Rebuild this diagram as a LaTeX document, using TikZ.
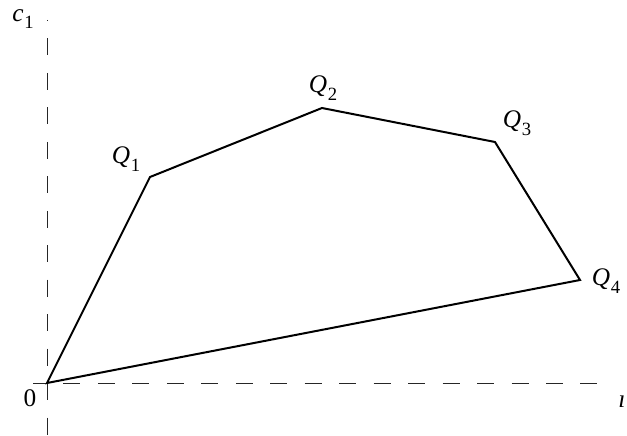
\documentclass[tikz,border=0pt]{standalone}
\usepackage{fontspec}
\setmainfont{Liberation Serif}
\newcommand\qlab[2]{\textit{#1}\kern0.03em\raisebox{-0.3em}{\fontsize{14}{14}\selectfont #2}}
\begin{document}
\begin{tikzpicture}[x=0.75pt,y=-0.75pt,
  axis/.style={line width=0.7pt,draw=black!85,dash pattern=on 12.75pt off 13.1pt},
  edge/.style={line width=1.5pt,line join=miter},
  lbl/.style={font=\fontsize{19}{21}\selectfont,inner sep=0pt}]
\useasboundingbox (0,0) rectangle (627,435);
\clip (0,0) rectangle (627,435);
\coordinate (O) at (47,383);
\coordinate (Q1) at (150,177);
\coordinate (Q2) at (322,108);
\coordinate (Q3) at (495,142);
\coordinate (Q4) at (580,280);
\coordinate (ytop) at (47,20);
\coordinate (ybot) at (47,440);
\coordinate (xl) at (33,383);
\coordinate (xr) at (600,383);
\draw[axis,dash phase=12pt] (ytop) -- (ybot);
\draw[axis,dash phase=3pt] (xl) -- (xr);
\draw[edge] (O) -- (Q1) -- (Q2) -- (Q3) -- (Q4) -- cycle;
\node[lbl] (l1) at (126,159) {\qlab{Q}{1}};
\node[lbl] (l2) at (323,88) {\qlab{Q}{2}};
\node[lbl] (l3) at (517,123) {\qlab{Q}{3}};
\node[lbl] (l4) at (606,281) {\qlab{Q}{4}};
\node[lbl] (c1) at (23,19) {\qlab{c}{1}};
\node[lbl] (zero) at (30,398) {0};
\node[lbl,anchor=west] (c2) at (618,405) {\qlab{ı}{}};
\end{tikzpicture}
\end{document}
